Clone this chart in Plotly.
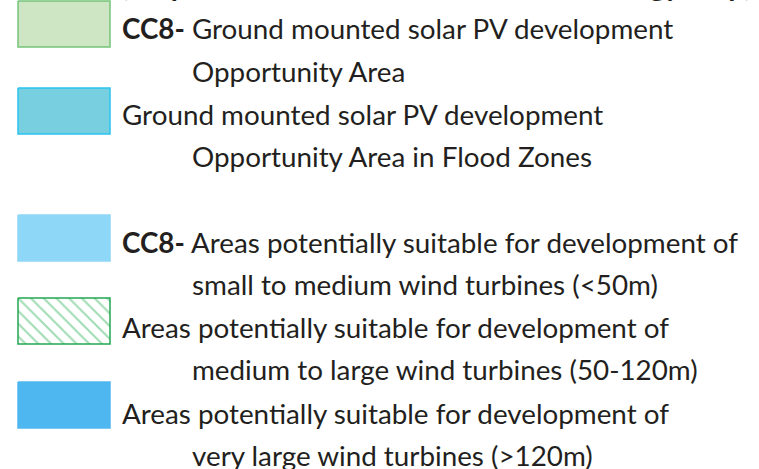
import plotly.graph_objects as go

W, H = 759, 469

# ---- content ----
title_text = "(Map 7: Renewable and Low Carbon Energy Map)"
prefixes = ["CC8-", "", "CC8-", "", ""]
first_lines = [
    "Ground mounted solar PV development",
    "Ground mounted solar PV development",
    "Areas potentially suitable for development of",
    "Areas potentially suitable for development of",
    "Areas potentially suitable for development of",
]
second_lines = [
    "Opportunity Area",
    "Opportunity Area in Flood Zones",
    "small to medium wind turbines (<50m)",
    "medium to large wind turbines (50-120m)",
    "very large wind turbines (>120m)",
]
fill_colors = ["#cfe6c5", "#78cfe0", "#8ed7f6", "#ffffff", "#4fb7f0"]
border_colors = ["#74c47a", "#29c3ee", "#8ed7f6", "#22a652", "#4fb7f0"]
patterns = ["", "", "", "\\", ""]

# ---- layout geometry (pixels) ----
swatch_top = [1, 88, 215, 298, 382]
swatch_h = 46
swatch_x0, swatch_x1 = 18, 110
line1_y = [28.5, 114, 242, 327, 413]
line_gap = 42.8
x_first, x_second = 120, 190
FONT = "Lato"
FS = 27.8
TXT = "#231f20"

fig = go.Figure()
for i in range(len(first_lines)):
    t = swatch_top[i]
    xs = [swatch_x0, swatch_x1, swatch_x1, swatch_x0, swatch_x0]
    ys = [t, t, t + swatch_h, t + swatch_h, t]
    kw = {}
    if patterns[i]:
        kw["fillpattern"] = dict(shape=patterns[i], fgcolor="#3fb868",
                                 bgcolor="#ffffff", size=9, solidity=0.22)
    fig.add_trace(go.Scatter(
        x=xs, y=ys, mode="lines", fill="toself",
        fillcolor=fill_colors[i],
        line=dict(color=border_colors[i], width=1.5),
        hoverinfo="skip", showlegend=False, **kw))

annotations = []
for i in range(len(first_lines)):
    txt = (f"<b>{prefixes[i]}</b> " if prefixes[i] else "") + first_lines[i]
    annotations.append(dict(x=x_first, y=line1_y[i], text=txt, xanchor="left",
                            yanchor="middle", showarrow=False,
                            font=dict(family=FONT, size=FS, color=TXT)))
    annotations.append(dict(x=x_second, y=line1_y[i] + line_gap, text=second_lines[i],
                            xanchor="left", yanchor="middle", showarrow=False,
                            font=dict(family=FONT, size=FS, color=TXT)))
annotations.append(dict(x=119, y=4, text=f"<b>{title_text}</b>", xanchor="left",
                        yanchor="bottom", showarrow=False,
                        font=dict(family=FONT, size=29, color=TXT)))

fig.update_layout(
    width=W, height=H,
    margin=dict(l=0, r=0, t=0, b=0),
    paper_bgcolor="white", plot_bgcolor="white",
    xaxis=dict(range=[0, W], visible=False, fixedrange=True),
    yaxis=dict(range=[H, 0], visible=False, fixedrange=True),
    annotations=annotations,
    showlegend=False,
)
fig.write_html("out.html", config={"displayModeBar": False},
               post_script="document.body.style.margin='0';document.body.style.overflow='hidden';")
